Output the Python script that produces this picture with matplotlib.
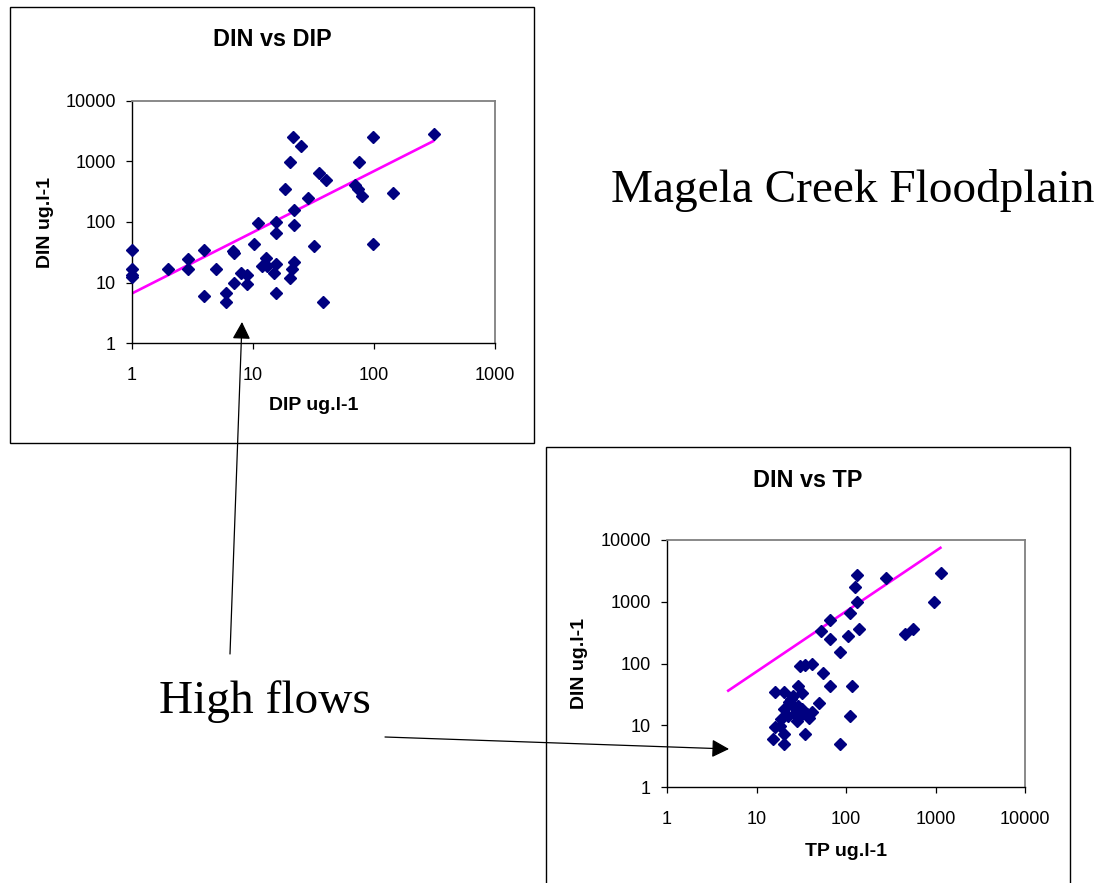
import matplotlib
matplotlib.use("Agg")
import matplotlib.pyplot as plt
from matplotlib.patches import Rectangle, FancyArrowPatch
from matplotlib.ticker import NullLocator
import numpy as np

W, H = 1102, 883

# ---- DIN vs DIP ----
dip = [1, 1, 1, 1, 2, 2.9, 2.9, 3.9, 3.9, 4.9, 6.0, 6.0, 6.8, 6.9, 6.9, 8.0, 8.9, 8.9,
       10.1, 11, 11.9, 12.9, 13.1, 14.9, 15.4, 15.5, 15.5, 15.5, 18.4, 20.1, 20.1,
       20.9, 21.7, 21.7, 21.7, 21.6, 24.8, 28.4, 32.2, 35.2, 40, 38, 75.5, 69.6,
       73.2, 79, 98.7, 98.7, 144.6, 315]
din_dip = [34, 17, 13.3, 12.2, 17, 24, 17, 34, 6.0, 17, 6.7, 4.7, 33, 30.5, 10, 14.4,
           13.3, 9.3, 44, 95, 18.6, 25, 18.4, 14.6, 20.3, 100, 67, 6.6, 349, 990, 11.9,
           17, 22, 88, 156, 2555, 1787, 247, 40, 644, 493, 4.7, 990, 402, 353, 267,
           2555, 44, 296, 2833]
# power trendline y = a * x^b
trend_dip_coef = (6.6, 1.011)
trend_dip_range = (1, 315)

# ---- DIN vs TP ----
tp = [134, 126, 134, 278, 1148, 959, 111, 66.8, 52.4, 66.8, 106, 141, 84.7, 459, 556,
      30.7, 35, 41.7, 55, 66.8, 117, 112, 84.7, 15.9, 20.3, 28.8, 32, 25.8, 49.7,
      23.2, 20.1, 25.8, 28.1, 32, 41.7, 38.2, 28.1, 22.6, 19, 15.9, 18.2, 20.3,
      15.2, 20.3, 34.4, 24.6, 29.4, 26.9, 36.6, 30.7]
din_tp = [2673, 1758, 1000, 2460, 2911, 1000, 652, 507, 330, 254, 280, 357, 153, 306,
          366, 91.6, 94, 100, 70, 43, 42.6, 14.1, 5.0, 35, 35, 43, 33.5, 30.3, 23.2,
          23.4, 18.3, 20.8, 17.2, 18.3, 16.5, 12.9, 11.8, 14.2, 12.5, 9.2, 9.7, 7.1,
          6.0, 5.0, 7.1, 26.7, 20.8, 15.1, 15.1, 14.2]
trend_tp_coef = (7.8, 0.976)
trend_tp_range = (4.7, 1167)

xticks_dip = [1, 10, 100, 1000]
xticks_tp = [1, 10, 100, 1000, 10000]
yticks = [1, 10, 100, 1000, 10000]

plt.rcParams['font.family'] = ['Liberation Sans', 'DejaVu Sans']

fig = plt.figure(figsize=(W / 100, H / 100), dpi=100)
fig.patch.set_facecolor('white')


def fx(px):
    return px / W


def fy(py):
    return 1 - py / H


def add_box(x0, y0, x1, y1):
    fig.add_artist(Rectangle((fx(x0), fy(y1)), (x1 - x0) / W, (y1 - y0) / H,
                             transform=fig.transFigure, fill=False,
                             ec='black', lw=1.0))


def scatter_panel(rect, x, y, coef, xr, xt, xlabel, ylabel, xlab_y, ylab_x):
    l, t, r, b = rect
    ax = fig.add_axes([fx(l), fy(b), (r - l) / W, (b - t) / H])
    ax.set_xscale('log')
    ax.set_yscale('log')
    ax.set_xlim(xt[0], xt[-1])
    ax.set_ylim(yticks[0], yticks[-1])
    ax.set_xticks(xt)
    ax.set_xticklabels([str(v) for v in xt])
    ax.set_yticks(yticks)
    ax.set_yticklabels([str(v) for v in yticks])
    ax.xaxis.set_minor_locator(NullLocator())
    ax.yaxis.set_minor_locator(NullLocator())
    for s in ('left', 'bottom'):
        ax.spines[s].set_color('black')
        ax.spines[s].set_linewidth(1.0)
    for s in ('top', 'right'):
        ax.spines[s].set_color('#808080')
        ax.spines[s].set_linewidth(1.3)
    ax.tick_params(direction='out', length=4.5, width=0.9, labelsize=13,
                   colors='black')
    ax.tick_params(axis='y', pad=7)
    ax.tick_params(axis='x', pad=12.5)

    a, bexp = coef
    xs = np.array(xr, dtype=float)
    ax.plot(xs, a * xs ** bexp, color='#FF00FF', lw=1.9, zorder=2,
            solid_capstyle='butt')
    ax.plot(x, y, linestyle='none', marker='D', ms=6.5, color='#000080',
            mec='#000080', zorder=3, clip_on=False)

    ax.set_xlabel(xlabel, fontsize=14, fontweight='bold')
    ax.set_ylabel(ylabel, fontsize=14, fontweight='bold')
    ax.xaxis.label.set_va('center')
    ax.yaxis.label.set_va('center')
    ax.yaxis.label.set_ha('center')
    ax.xaxis.set_label_coords(0.5, (b - xlab_y) / (b - t))
    ax.yaxis.set_label_coords((ylab_x - l) / (r - l), 0.5)
    return ax


# chart frames
add_box(10, 7, 534, 443)
add_box(546, 447, 1070, 900)

fig.text(fx(272), fy(40), 'DIN vs DIP', ha='center', va='center',
         fontsize=16.8, fontweight='bold')
fig.text(fx(808), fy(481), 'DIN vs TP', ha='center', va='center',
         fontsize=16.8, fontweight='bold')

scatter_panel((132, 101, 495, 343), dip, din_dip, trend_dip_coef, trend_dip_range,
              xticks_dip, 'DIP ug.l-1', 'DIN ug.l-1', 405, 45)
scatter_panel((667, 540, 1025, 787), tp, din_tp, trend_tp_coef, trend_tp_range,
              xticks_tp, 'TP ug.l-1', 'DIN ug.l-1', 852, 580)

serif = ['Liberation Serif', 'DejaVu Serif']
fig.text(fx(611), fy(202), 'Magela Creek Floodplain', ha='left', va='baseline',
         fontsize=34, family=serif)
fig.text(fx(159), fy(713), 'High flows', ha='left', va='baseline',
         fontsize=34, family=serif)

arrow_kw = dict(arrowstyle='-|>,head_length=0.42,head_width=0.22',
                color='black', lw=0.9, shrinkA=0, shrinkB=0, mutation_scale=25)
fig.add_artist(FancyArrowPatch(
    (fx(230), fy(654)), (fx(242), fy(322)), transform=fig.transFigure, **arrow_kw))
fig.add_artist(FancyArrowPatch(
    (fx(385), fy(737)), (fx(729), fy(749)), transform=fig.transFigure, **arrow_kw))

fig.savefig('out.png', dpi=100, facecolor='white')
